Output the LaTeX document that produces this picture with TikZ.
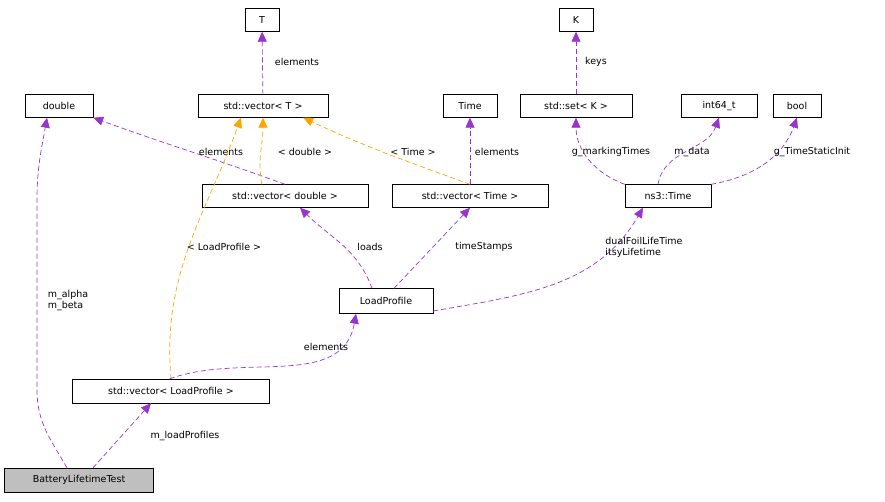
\documentclass[tikz,border=0pt]{standalone}
\usepackage{fontspec}
\setmainfont{DejaVu Sans}
\usetikzlibrary{arrows.meta}
\definecolor{pur}{RGB}{154,50,205}
\definecolor{org}{RGB}{255,165,0}
\begin{document}
\begin{tikzpicture}[x=1pt,y=-1pt,
 box/.style={draw,fill=white,font=\fontsize{9.5}{11}\selectfont,inner sep=0pt,minimum height=23pt,anchor=center},
 lbl/.style={font=\fontsize{9.5}{11}\selectfont,align=left,inner sep=1pt,text=black},
 use/.style={draw=pur,line width=0.7pt,dash pattern=on 5pt off 3pt,-{Triangle[length=10pt,width=9pt,fill=pur]}},
 tpl/.style={draw=org,line width=0.7pt,dash pattern=on 5pt off 3pt,-{Triangle[length=10pt,width=9pt,fill=org]}}]
\useasboundingbox (0,0) rectangle (885,501);
\node[box,minimum width=34pt] (T) at (262,20) {T};
\node[box,minimum width=34pt] (K) at (576,20) {K};
\node[box,minimum width=68pt] (dbl) at (59,106) {double};
\node[box,minimum width=130pt] (vT) at (263,106) {std::vector< T >};
\node[box,minimum width=54pt] (Time) at (470,106) {Time};
\node[box,minimum width=112pt] (sK) at (576,106) {std::set< K >};
\node[box,minimum width=76pt] (i64) at (719,106) {int64\_t};
\node[box,minimum width=48pt] (bool) at (797,106) {bool};
\node[box,minimum width=166pt] (vD) at (285,196) {std::vector< double >};
\node[box,minimum width=156pt] (vTime) at (470,196) {std::vector< Time >};
\node[box,minimum width=86pt] (ns3) at (668,196) {ns3::Time};
\node[box,minimum width=94pt,minimum height=25pt] (LP) at (386,301) {LoadProfile};
\node[box,minimum width=197pt,minimum height=24pt] (vLP) at (171,391) {std::vector< LoadProfile >};
\node[box,minimum width=149pt,minimum height=24pt,fill={rgb,255:red,191;green,191;blue,191}] (BLT) at (79,480) {BatteryLifetimeTest};

\draw[use] (vT) -- (T);
\node[lbl] at (297,62) {elements};
\draw[use] (sK) -- (K);
\node[lbl] at (596,62) {keys};
\draw[use] (vD.north) to[out=160,in=-20] (dbl.south east);
\node[lbl] at (221,152) {elements};
\draw[tpl] (vD.north west) ++(60,0) to[out=100,in=-90] (vT.south);
\node[lbl] at (305,152) {< double >};
\draw[tpl] (vTime.north) to[out=160,in=-25] ([xshift=-25pt]vT.south east);
\node[lbl] at (413,152) {< Time >};
\draw[use] (vTime) -- (Time);
\node[lbl] at (497,152) {elements};
\draw[use] (ns3.north west) to[out=160,in=-90] (sK.south);
\node[lbl] at (611,152) {g\_markingTimes};
\draw[use] ([xshift=-10pt]ns3.north) to[out=80,in=-110] (i64.south);
\node[lbl] at (692,152) {m\_data};
\draw[use] (ns3.north east) to[out=10,in=-110] (bool.south);
\node[lbl] at (812,152) {g\_TimeStaticInit};
\draw[use] ([xshift=-14pt]LP.north) to[out=110,in=-45] ([xshift=15pt]vD.south);
\node[lbl] at (370,247) {loads};
\draw[use] ([xshift=8pt]LP.north) -- (vTime.south);
\node[lbl] at (484,247) {timeStamps};
\draw[use] ([yshift=-10pt]LP.east) to[out=10,in=-120] ([xshift=-25pt]ns3.south);
\node[lbl] at (644,247) {dualFoilLifeTime\\itsyLifetime};
\draw[tpl] (vLP.north) to[out=95,in=-110] ([xshift=-22pt]vT.south);
\node[lbl] at (224,247) {< LoadProfile >};
\draw[use] ([xshift=-100pt]vLP.north east) to[out=20,in=-100] ([xshift=-30pt]LP.south);
\node[lbl] at (326,347) {elements};
\draw[use] ([xshift=-12pt]BLT.north) to[out=120,in=-90] (37,390) -- (37,200) to[out=90,in=-100] ([xshift=-12pt]dbl.south);
\node[lbl] at (68,301) {m\_alpha\\m\_beta};
\draw[use] ([xshift=14pt]BLT.north) -- ([xshift=-20pt]vLP.south);
\node[lbl] at (185,436) {m\_loadProfiles};
\end{tikzpicture}
\end{document}
